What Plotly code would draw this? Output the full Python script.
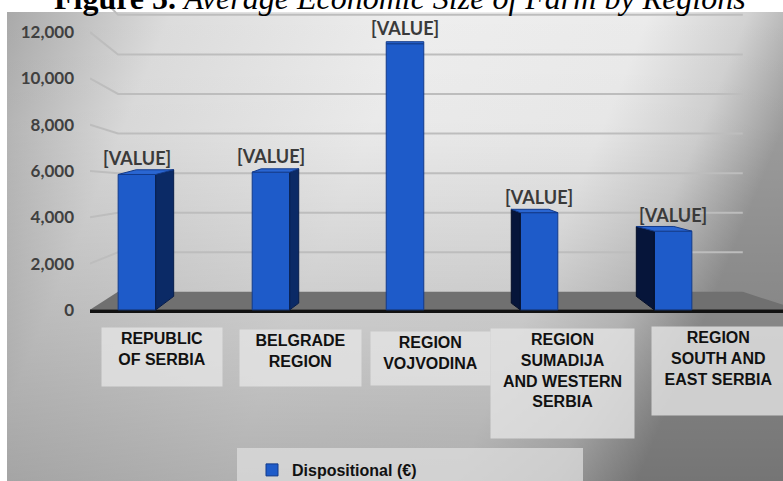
import base64
import plotly.graph_objects as go

# ---- data ----
categories = [
    "REPUBLIC<br>OF SERBIA",
    "BELGRADE<br>REGION",
    "REGION<br>VOJVODINA",
    "REGION<br>SUMADIJA<br>AND WESTERN<br>SERBIA",
    "REGION<br>SOUTH AND<br>EAST SERBIA",
]
values = [5850, 5950, 11500, 4200, 3400]
value_labels = ["[VALUE]", "[VALUE]", "[VALUE]", "[VALUE]", "[VALUE]"]
y_ticks = [0, 2000, 4000, 6000, 8000, 10000, 12000]
series_name = "Dispositional (€)"
title_text = "<b>Figure 5.</b> <i>Average Economic Size of Farm by Regions</i>"

# ---- canvas / axes geometry ----
W, H = 783, 481
ML, MR, MT, MB = 90, 0, 9, 148
PW, PH = W - ML - MR, H - MT - MB
X_RANGE = [-0.35, 4.82]
Y_RANGE = [-1000, 13000]
PX_X = PW / (X_RANGE[1] - X_RANGE[0])
PX_Y = PH / (Y_RANGE[1] - Y_RANGE[0])


def ux(px):
    return px / PX_X


def uy(px):
    return px / PX_Y


def paper_x(px):
    return (px - ML) / PW


def paper_y(py):
    return (H - MB - py) / PH


n = len(values)
mid = (n - 1) / 2
HALF_W = 0.14
SIDE_PX = 9.0          # visible side depth per category step away from centre
FLOOR_DEPTH_PX = 18.0  # floor back edge above the front edge
WALL_SCALE = 0.855     # back-wall compression of the value scale

# ---- background (soft grey gradient panel) ----
svg = f"""<svg xmlns="http://www.w3.org/2000/svg" width="776" height="469" viewBox="0 0 776 469" preserveAspectRatio="none">
<defs>
<linearGradient id="h" x1="0" y1="0" x2="1" y2="0.25">
<stop offset="0" stop-color="#a9a9a9"/>
<stop offset="0.2" stop-color="#dcdcdc"/>
<stop offset="0.5" stop-color="#eeeeee"/>
<stop offset="0.78" stop-color="#ebebeb"/>
<stop offset="0.9" stop-color="#d2d2d2"/>
<stop offset="1" stop-color="#9e9e9e"/>
</linearGradient>
<linearGradient id="v" x1="0" y1="0" x2="0" y2="1">
<stop offset="0" stop-color="#000" stop-opacity="0"/>
<stop offset="0.25" stop-color="#000" stop-opacity="0.02"/>
<stop offset="1" stop-color="#000" stop-opacity="0.26"/>
</linearGradient>
</defs>
<rect width="776" height="469" fill="url(#h)"/>
<rect width="776" height="469" fill="url(#v)"/>
</svg>"""
bg_uri = "data:image/svg+xml;base64," + base64.b64encode(svg.encode()).decode()

fig = go.Figure()

# front faces of the columns
fig.add_trace(go.Bar(
    x=list(range(n)), y=values, width=2 * HALF_W, base=0,
    name=series_name,
    marker=dict(color="#1e5bc9", line=dict(color="#123a8a", width=1)),
    showlegend=True, hoverinfo="skip",
))

# side and top faces, derived from each column's value and position
right_x, right_y, left_x, left_y, top_x, top_y = [], [], [], [], [], []
for i, v in enumerate(values):
    depth_px = (mid - i) * SIDE_PX
    d = ux(depth_px)
    rise_top = uy(abs(depth_px) * 0.15 + 2)
    rise_bot = uy(abs(depth_px) * 0.75)
    if i < mid:
        xf = i + HALF_W
        xs, ys = right_x, right_y
    else:
        xf = i - HALF_W
        xs, ys = left_x, left_y
    if abs(depth_px) > 0:
        xs += [xf, xf, xf + d, xf + d, xf, None]
        ys += [0, v, v + rise_top, rise_bot, 0, None]
    top_x += [i - HALF_W, i + HALF_W, i + HALF_W + d, i - HALF_W + d, i - HALF_W, None]
    top_y += [v, v, v + rise_top, v + rise_top, v, None]

fig.add_trace(go.Scatter(x=right_x, y=right_y, fill="toself", mode="lines",
                         fillcolor="#0b2a66", line=dict(color="#071d4a", width=1),
                         showlegend=False, hoverinfo="skip"))
fig.add_trace(go.Scatter(x=left_x, y=left_y, fill="toself", mode="lines",
                         fillcolor="#06153a", line=dict(color="#040e28", width=1),
                         showlegend=False, hoverinfo="skip"))
fig.add_trace(go.Scatter(x=top_x, y=top_y, fill="toself", mode="lines",
                         fillcolor="#2a66d2", line=dict(color="#123a8a", width=1),
                         showlegend=False, hoverinfo="skip"))

# ---- floor, back-wall gridlines ----
shapes = []
x0, x_wall0, x_wall1, x1 = X_RANGE[0], X_RANGE[0] + ux(28), 4.52, X_RANGE[1]
floor_back = uy(FLOOR_DEPTH_PX)


def wall(v):
    return floor_back + WALL_SCALE * v


for v in y_ticks[1:] + [14000]:
    shapes.append(dict(
        type="path", xref="x", yref="y", layer="below",
        path=f"M {x0},{v} L {x_wall0},{wall(v)} L {x_wall1},{wall(v)}",
        line=dict(color="#bdbdbd", width=2),
    ))
shapes.append(dict(
    type="path", xref="x", yref="y", layer="below",
    path=(f"M {x0},0 L {x_wall0},{floor_back} L {x_wall1},{floor_back} "
          f"L {x1},{uy(5)} L {x1},0 Z"),
    fillcolor="#707070", line=dict(width=0),
))
shapes.append(dict(
    type="line", xref="x", yref="y", layer="below",
    x0=x0, x1=x1, y0=-uy(1.5), y1=-uy(1.5),
    line=dict(color="#111111", width=3.5),
))
# legend panel
shapes.append(dict(
    type="rect", xref="paper", yref="paper", layer="below",
    x0=paper_x(237), x1=paper_x(583), y0=paper_y(481), y1=paper_y(448),
    fillcolor="rgba(222,222,222,0.75)", line=dict(width=0),
))

# ---- annotations ----
annotations = []
for i, (v, lab) in enumerate(zip(values, value_labels)):
    annotations.append(dict(
        x=i, y=v, xref="x", yref="y", text=lab, showarrow=False,
        yanchor="bottom", yshift=3,
        font=dict(family="Lato", size=18, color="#3a3a3a", weight="bold"),
    ))

# category label boxes: (x offset px from column, top px, width, height)
LABEL_BOXES = [(25, 327, 116, 54), (30, 329, 117, 52), (25, 331, 115, 49),
               (23, 328, 139, 105), (45, 326, 129, 84)]
for i, (cat, (xs_, top, bw, bh)) in enumerate(zip(categories, LABEL_BOXES)):
    annotations.append(dict(
        x=i, xref="x", xshift=xs_, y=paper_y(top), yref="paper",
        xanchor="center", yanchor="top", text=cat, showarrow=False,
        width=bw, height=bh, align="center", valign="top",
        bgcolor="rgba(228,228,228,0.8)", borderpad=2,
        font=dict(family="Liberation Sans", size=16, color="#111111", weight="bold"),
    ))

annotations.append(dict(
    x=paper_x(400), y=paper_y(-2), xref="paper", yref="paper",
    xanchor="center", yanchor="middle", text=title_text, showarrow=False,
    font=dict(family="Liberation Serif", size=32, color="#000000"),
))

fig.update_layout(
    width=W, height=H,
    margin=dict(l=ML, r=MR, t=MT, b=MB, autoexpand=False),
    paper_bgcolor="#ffffff", plot_bgcolor="rgba(0,0,0,0)",
    barmode="overlay",
    xaxis=dict(range=X_RANGE, visible=False, fixedrange=True),
    yaxis=dict(
        range=Y_RANGE, tickvals=y_ticks, tickformat=",", ticks="",
        showgrid=False, zeroline=False, showline=False, ticklabelstandoff=15,
        tickfont=dict(family="Lato", size=17, color="#404040", weight="bold"),
        fixedrange=True,
    ),
    images=[dict(
        source=bg_uri, xref="paper", yref="paper",
        x=paper_x(7), y=paper_y(12), sizex=776 / PW, sizey=469 / PH,
        xanchor="left", yanchor="top", sizing="stretch", layer="below",
    )],
    shapes=shapes,
    annotations=annotations,
    showlegend=True,
    legend=dict(
        x=paper_x(252), y=paper_y(453), xanchor="left", yanchor="top",
        bgcolor="rgba(0,0,0,0)",
        font=dict(family="Liberation Sans", size=16, color="#111111", weight="bold"),
    ),
)

fig.write_html("out.html")
